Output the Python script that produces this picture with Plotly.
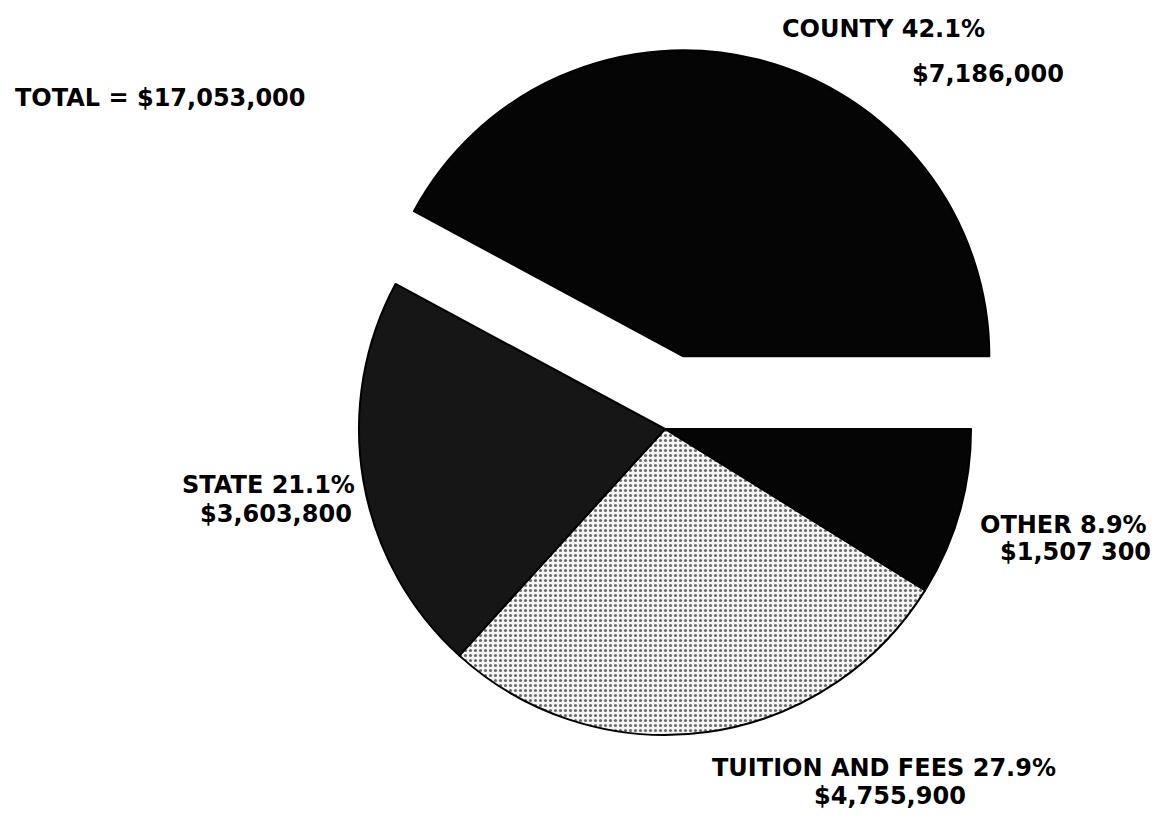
import plotly.graph_objects as go

# Data (order: clockwise from 3 o'clock)
categories = ["OTHER", "TUITION AND FEES", "STATE", "COUNTY"]
amounts = [1507300, 4755900, 3603800, 7186000]
percent_labels = ["8.9%", "27.9%", "21.1%", "42.1%"]
amount_labels = ["$1,507 300", "$4,755,900", "$3,603,800", "$7,186,000"]
total_label = "TOTAL = $17,053,000"

PAGE_W, PAGE_H = 1169, 819
OFF = 8  # default body margin of the page
W, H = PAGE_W - 2 * OFF, PAGE_H - 2 * OFF

def px(x):
    return (x - OFF) / W

def py(y):
    return 1 - (y - OFF) / H

fig = go.Figure()
fig.add_trace(go.Pie(
    labels=categories,
    values=amounts,
    sort=False,
    direction="clockwise",
    rotation=90,
    pull=[0, 0, 0, 0.245],
    textinfo="none",
    hoverinfo="label+value+percent",
    showlegend=False,
    marker=dict(
        colors=["#050505", "#e0e0e0", "#161616", "#050505"],
        line=dict(color="#000000", width=2),
        pattern=dict(
            shape=["", ".", "", ""],
            fgcolor=["#050505", "#6a6a6a", "#161616", "#050505"],
            bgcolor=["#050505", "#f5f5f5", "#161616", "#050505"],
            size=5,
            solidity=0.3,
            fillmode="replace",
        ),
    ),
    domain=dict(x=[px(284), px(1046)], y=[py(810), py(48)]),
))

font = dict(family="DejaVu Sans", size=24, color="#000000", weight="bold")

annots = [
    (total_label, 13, 98),
    (f"{categories[3]} {percent_labels[3]}", 780, 29),
    (amount_labels[3], 910, 74),
    (f"{categories[2]} {percent_labels[2]}", 180, 485),
    (amount_labels[2], 198, 514),
    (f"{categories[0]} {percent_labels[0]}", 978, 525),
    (amount_labels[0], 998, 552),
    (f"{categories[1]} {percent_labels[1]}", 710, 768),
    (amount_labels[1], 812, 796),
]
for text, x, y in annots:
    fig.add_annotation(
        text=text, x=px(x), y=py(y), xref="paper", yref="paper",
        xanchor="left", yanchor="middle", showarrow=False, font=font,
    )

fig.update_layout(
    width=W, height=H,
    margin=dict(l=0, r=0, t=0, b=0),
    paper_bgcolor="white",
    plot_bgcolor="white",
)

fig.write_html("out.html")
